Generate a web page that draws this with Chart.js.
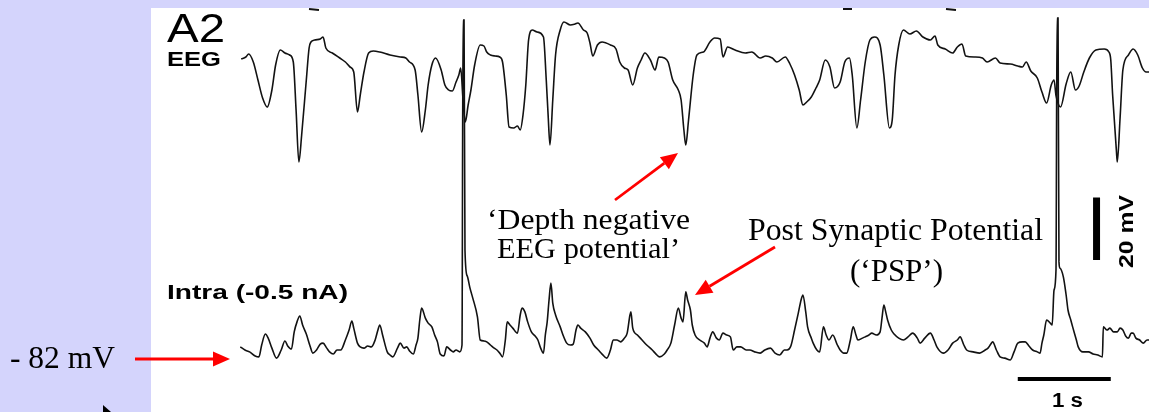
<!DOCTYPE html>
<html>
<head>
<meta charset="utf-8">
<title>A2 - EEG and intracellular trace</title>
<script src="https://cdn.jsdelivr.net/npm/chart.js@4.4.0/dist/chart.umd.min.js"></script>
<style>
  html, body { margin: 0; padding: 0; background: #d4d4fc; overflow: hidden; }
  #wrap { width: 1149px; height: 412px; }
</style>
</head>
<body>
<div id="wrap"><canvas id="trace" width="1149" height="412"></canvas></div>
<script>
// ------- Data (time in s, EEG in uV, intracellular in mV) -------
const eegTime = [
  0.97, 1.02, 1.05, 1.10, 1.15, 1.20, 1.25, 1.30, 1.34, 1.39,
  1.44, 1.49, 1.53, 1.56, 1.59, 1.62, 1.67, 1.70, 1.72, 1.76,
  1.82, 1.85, 1.88, 1.95, 2.03, 2.09, 2.14, 2.18, 2.22, 2.25,
  2.29, 2.34, 2.39, 2.46, 2.57, 2.68, 2.74, 2.78, 2.84, 2.87,
  2.91, 2.95, 2.98, 3.02, 3.06, 3.12, 3.16, 3.20, 3.24, 3.28,
  3.31, 3.33, 3.355, 3.38, 3.41, 3.44, 3.48, 3.54, 3.58, 3.61,
  3.65, 3.70, 3.75, 3.78, 3.82, 3.85, 3.90, 3.94, 3.97, 4.00,
  4.03, 4.06, 4.10, 4.15, 4.22, 4.25, 4.27, 4.29, 4.32, 4.35,
  4.40, 4.44, 4.51, 4.56, 4.59, 4.65, 4.69, 4.72, 4.75, 4.80,
  4.85, 4.94, 5.00, 5.04, 5.09, 5.13, 5.18, 5.23, 5.27, 5.31,
  5.37, 5.42, 5.46, 5.52, 5.56, 5.61, 5.67, 5.70, 5.73, 5.75,
  5.78, 5.83, 5.87, 5.94, 6.01, 6.06, 6.12, 6.15, 6.20, 6.28,
  6.39, 6.46, 6.55, 6.61, 6.68, 6.73, 6.82, 6.87, 6.92, 6.97,
  7.01, 7.05, 7.10, 7.15, 7.19, 7.25, 7.30, 7.35, 7.41, 7.46,
  7.51, 7.54, 7.59, 7.63, 7.68, 7.73, 7.78, 7.84, 7.88, 7.94,
  7.97, 8.00, 8.04, 8.09, 8.16, 8.23, 8.30, 8.38, 8.43, 8.46,
  8.54, 8.62, 8.67, 8.72, 8.76, 8.86, 8.94, 8.99, 9.08, 9.13,
  9.24, 9.32, 9.37, 9.41, 9.46, 9.53, 9.58, 9.63, 9.68, 9.71,
  9.73, 9.76, 9.78, 9.84, 9.89, 9.94, 9.98, 10.03, 10.09, 10.16,
  10.25, 10.30, 10.32, 10.34, 10.38, 10.39, 10.42, 10.45, 10.51, 10.56,
  10.61, 10.66, 10.70, 10.74
];
const eegUV = [
  5, 15, 30, -10, -100, -190, -235, -150, -25, 50,
  35, 25, -10, -250, -510, -375, -100, 60, 90, 100,
  105, 115, 60, 35, 10, -10, -35, -60, -260, -175,
  -60, 35, 45, 40, 25, 15, 10, -10, -50, -175,
  -360, -250, -125, -25, 10, -50, -125, -150, -155, -110,
  -75, -40, -200, -310, -225, -150, -25, 75, 70, 40,
  25, 20, 15, -10, -175, -335, -340, -330, -350, -275,
  -125, 100, 150, 140, 115, -100, -275, -425, -200, 25,
  150, 190, 175, 180, 185, 150, 135, 85, 20, 75,
  90, 75, 55, -10, -40, -50, -125, -40, 0, 35,
  0, -50, 15, 10, -10, -100, -150, -200, -350, -425,
  -300, -75, 25, 40, 90, 110, 105, 15, 65, 50,
  35, 40, 10, 20, 10, -10, 15, -20, -75, -150,
  -225, -210, -185, -140, -100, 0, -35, -140, -110, -10,
  10, -75, -340, -200, -10, 100, 115, 75, -75, -340,
  -300, -75, 75, 150, 130, 145, 115, 100, 120, 75,
  55, 35, 65, 80, 20, 15, 10, -10, 10, -15,
  -20, -30, -35, -10, -55, -90, -160, -215, -125, -100,
  -175, -225, -235, -120, -60, -150, -130, -60, 10, 50,
  55, 40, 0, -175, -450, -510, -290, -50, 25, 55,
  25, -40, -60, -60
];

const intraTime = [
  0.96, 1.01, 1.06, 1.12, 1.16, 1.19, 1.23, 1.26, 1.30, 1.35,
  1.40, 1.44, 1.47, 1.51, 1.54, 1.57, 1.60, 1.63, 1.67, 1.71,
  1.74, 1.78, 1.82, 1.85, 1.89, 1.92, 1.96, 2.00, 2.04, 2.09,
  2.13, 2.16, 2.18, 2.22, 2.25, 2.29, 2.33, 2.37, 2.41, 2.44,
  2.46, 2.49, 2.54, 2.57, 2.60, 2.65, 2.68, 2.72, 2.75, 2.78,
  2.82, 2.85, 2.87, 2.89, 2.91, 2.95, 2.98, 3.02, 3.05, 3.08,
  3.11, 3.15, 3.18, 3.22, 3.25, 3.28, 3.32, 3.344, 3.355, 3.366,
  3.376, 3.40, 3.43, 3.46, 3.51, 3.54, 3.58, 3.61, 3.65, 3.69,
  3.72, 3.75, 3.78, 3.81, 3.83, 3.86, 3.89, 3.94, 3.97, 3.99,
  4.02, 4.05, 4.09, 4.13, 4.16, 4.19, 4.22, 4.24, 4.26, 4.28,
  4.30, 4.32, 4.35, 4.40, 4.43, 4.47, 4.51, 4.54, 4.57, 4.59,
  4.62, 4.67, 4.72, 4.76, 4.81, 4.85, 4.90, 4.94, 4.97, 5.01,
  5.05, 5.09, 5.12, 5.15, 5.16, 5.18, 5.23, 5.28, 5.33, 5.39,
  5.43, 5.47, 5.52, 5.55, 5.59, 5.63, 5.67, 5.70, 5.72, 5.75,
  5.77, 5.80, 5.82, 5.85, 5.90, 5.95, 5.98, 6.01, 6.04, 6.08,
  6.11, 6.15, 6.19, 6.23, 6.26, 6.30, 6.34, 6.40, 6.44, 6.49,
  6.55, 6.60, 6.66, 6.71, 6.76, 6.81, 6.84, 6.88, 6.92, 6.96,
  6.99, 7.01, 7.04, 7.06, 7.10, 7.12, 7.16, 7.19, 7.23, 7.26,
  7.29, 7.33, 7.38, 7.41, 7.45, 7.48, 7.52, 7.55, 7.58, 7.60,
  7.65, 7.68, 7.72, 7.75, 7.80, 7.84, 7.86, 7.88, 7.90, 7.92,
  7.96, 7.99, 8.04, 8.09, 8.14, 8.19, 8.24, 8.27, 8.32, 8.38,
  8.42, 8.45, 8.52, 8.57, 8.62, 8.67, 8.70, 8.74, 8.77, 8.84,
  8.91, 8.97, 9.00, 9.03, 9.05, 9.09, 9.13, 9.18, 9.24, 9.28,
  9.32, 9.37, 9.40, 9.44, 9.48, 9.53, 9.56, 9.58, 9.60, 9.63,
  9.67, 9.69, 9.71, 9.731, 9.742, 9.753, 9.763, 9.774, 9.81, 9.84,
  9.86, 9.89, 9.91, 9.95, 9.97, 10.02, 10.08, 10.13, 10.18, 10.23,
  10.24, 10.28, 10.31, 10.35, 10.39, 10.42, 10.45, 10.48, 10.51, 10.54,
  10.56, 10.59, 10.63, 10.67, 10.71, 10.74
];
const intraMV = [
  -79.4, -80.4, -81.0, -82.3, -82.6, -78.8, -75.3, -76.6, -79.8, -83.0,
  -80.4, -77.5, -79.1, -80.1, -74.6, -71.4, -69.5, -72.4, -75.3, -79.1,
  -81.4, -80.4, -78.5, -78.2, -79.8, -81.0, -81.7, -80.4, -80.4, -77.2,
  -74.0, -71.1, -73.4, -78.2, -79.4, -79.8, -79.1, -79.4, -77.2, -74.0,
  -72.4, -75.6, -81.0, -82.0, -82.6, -79.8, -78.2, -79.8, -79.4, -80.7,
  -81.7, -78.8, -76.6, -70.8, -67.0, -70.2, -71.8, -73.0, -75.6, -77.8,
  -81.7, -82.3, -79.4, -80.4, -81.0, -80.4, -81.0, -78.8, 25.2, 25.2,
  -48.4, -56.7, -60.6, -63.8, -69.8, -77.2, -77.5, -77.8, -78.8, -79.8,
  -80.4, -81.4, -82.6, -77.2, -71.4, -72.4, -73.4, -75.0, -69.2, -67.0,
  -68.2, -71.4, -74.6, -75.9, -77.2, -79.8, -81.4, -75.6, -71.4, -64.4,
  -59.0, -65.4, -69.2, -73.0, -75.6, -78.2, -78.8, -78.5, -74.0, -72.4,
  -73.4, -74.6, -76.6, -78.8, -80.4, -81.7, -83.0, -80.4, -77.2, -77.2,
  -77.8, -76.6, -75.0, -69.2, -68.2, -73.4, -75.6, -77.2, -78.8, -80.4,
  -81.7, -82.6, -81.7, -80.4, -78.2, -72.4, -67.0, -70.2, -71.4, -61.8,
  -64.4, -67.6, -72.4, -75.6, -77.2, -78.2, -79.4, -76.6, -74.6, -76.6,
  -77.2, -75.0, -75.6, -76.2, -80.4, -79.4, -79.4, -80.4, -80.4, -81.0,
  -81.4, -80.4, -79.8, -81.4, -82.0, -80.4, -80.4, -79.1, -74.0, -68.6,
  -64.4, -62.8, -68.2, -73.0, -76.6, -78.2, -80.4, -81.0, -73.0, -75.6,
  -77.2, -75.6, -78.8, -80.4, -81.4, -81.4, -77.2, -73.0, -75.6, -77.2,
  -76.6, -76.2, -75.6, -75.0, -75.6, -74.6, -70.2, -66.0, -68.2, -70.8,
  -74.0, -75.3, -76.6, -77.2, -76.2, -75.0, -76.6, -78.2, -76.6, -75.0,
  -77.2, -79.4, -81.4, -80.4, -78.2, -77.2, -76.2, -78.8, -80.4, -81.0,
  -81.4, -80.4, -79.8, -78.5, -77.8, -80.4, -82.6, -83.0, -83.6, -81.0,
  -78.2, -77.8, -77.8, -79.1, -80.4, -81.0, -81.4, -78.2, -75.6, -70.8,
  -71.8, -72.4, -61.2, -54.8, 25.8, 25.8, -52.2, -54.2, -57.0, -62.8,
  -67.6, -70.8, -73.0, -77.2, -79.4, -81.0, -81.0, -81.7, -82.0, -82.6,
  -73.0, -74.0, -73.4, -74.6, -74.6, -73.4, -74.0, -75.9, -76.6, -75.0,
  -75.0, -76.6, -77.2, -78.2, -77.2, -77.2
];

// calibration bars: 20 mV (vertical) and 1 s (horizontal)
const barMvTime = 10.167;
const barMv = [-51.6, -31.6];
const barSecTime = [9.32, 10.32];
const barSecMv = -89.7;

// view window
const timeRange = [0, 10.731];
const intraRange = [-100.24, 29.04];
const eegRange = [-1760, 260];

function pairs(xs, ys) {
  return xs.map((x, i) => ({ x: x, y: ys[i] }));
}

// ------- helpers for the annotations -------
function wideText(ctx, text, left, baseline, font, width) {
  ctx.font = font;
  let w = ctx.measureText(text).width;
  ctx.save();
  ctx.translate(left, baseline);
  ctx.scale(width / w, 1);
  ctx.textAlign = "left";
  ctx.textBaseline = "alphabetic";
  ctx.fillText(text, 0, 0);
  ctx.restore();
}

function redArrow(ctx, x1, y1, x2, y2) {
  let ang = Math.atan2(y2 - y1, x2 - x1),
    len = 17,
    half = 7.5;
  let bx = x2 - len * Math.cos(ang),
    by = y2 - len * Math.sin(ang);
  ctx.save();
  ctx.strokeStyle = "#ff0000";
  ctx.fillStyle = "#ff0000";
  ctx.lineWidth = 2.8;
  ctx.beginPath();
  ctx.moveTo(x1, y1);
  ctx.lineTo(bx, by);
  ctx.stroke();
  ctx.beginPath();
  ctx.moveTo(x2, y2);
  ctx.lineTo(bx + half * Math.sin(ang), by - half * Math.cos(ang));
  ctx.lineTo(bx - half * Math.sin(ang), by + half * Math.cos(ang));
  ctx.closePath();
  ctx.fill();
  ctx.restore();
}

// lavender slide + white figure panel
const panel = {
  id: "panel",
  beforeDraw(chart) {
    let ctx = chart.ctx,
      a = chart.chartArea;
    ctx.save();
    ctx.fillStyle = "#d4d4fc";
    ctx.fillRect(0, 0, chart.width, chart.height);
    ctx.fillStyle = "#ffffff";
    ctx.fillRect(a.left, a.top, a.right - a.left, a.bottom - a.top);
    ctx.restore();
  },
};

// labels, scale-bar text and red arrows
const notes = {
  id: "notes",
  afterDraw(chart) {
    let ctx = chart.ctx;
    let sans = '"Liberation Sans", Arial, sans-serif',
      serif = '"Liberation Serif", "Times New Roman", serif';
    ctx.save();
    ctx.fillStyle = "#000";

    // bits of the cropped line above the figure
    ctx.strokeStyle = "#111";
    ctx.lineWidth = 2;
    ctx.beginPath();
    ctx.moveTo(309, 9); ctx.lineTo(319, 10);
    ctx.moveTo(843, 9); ctx.lineTo(852, 9);
    ctx.moveTo(946, 9); ctx.lineTo(956, 10);
    ctx.stroke();

    wideText(ctx, "A2", 167, 42, "40px " + sans, 58);
    wideText(ctx, "EEG", 167, 66, "bold 20px " + sans, 54);
    wideText(ctx, "Intra (-0.5 nA)", 167, 299, "bold 20px " + sans, 181);
    wideText(ctx, "1 s", 1052, 407, "bold 20px " + sans, 31);

    ctx.save();
    ctx.translate(1133, 268);
    ctx.rotate(-Math.PI / 2);
    wideText(ctx, "20 mV", 0, 0, "bold 20px " + sans, 73);
    ctx.restore();

    wideText(ctx, "\u2018Depth negative", 487, 229, "30px " + serif, 203);
    wideText(ctx, "EEG potential\u2019", 497, 258, "30px " + serif, 183);
    wideText(ctx, "Post Synaptic Potential", 748, 240, "31px " + serif, 295);
    wideText(ctx, "(\u2018PSP\u2019)", 850, 281, "31px " + serif, 93);
    wideText(ctx, "- 82 mV", 10, 368, "31px " + serif, 105);

    redArrow(ctx, 135, 359, 230, 359);
    redArrow(ctx, 615, 200, 678, 153);
    redArrow(ctx, 775, 247, 695, 295);

    // clipped black arrow head bottom left
    ctx.beginPath();
    ctx.moveTo(103, 405);
    ctx.lineTo(111, 412);
    ctx.lineTo(103, 412);
    ctx.closePath();
    ctx.fill();
    ctx.restore();
  },
};

// ------- Chart -------
const traceStyle = {
  showLine: true,
  borderColor: "#121212",
  borderWidth: 1.6,
  pointRadius: 0,
  cubicInterpolationMode: "monotone",
};

new Chart("trace", {
  type: "scatter",
  data: {
    datasets: [
      Object.assign({ label: "EEG", data: pairs(eegTime, eegUV), yAxisID: "yE" }, traceStyle),
      Object.assign({ label: "Intra (-0.5 nA)", data: pairs(intraTime, intraMV), yAxisID: "y" }, traceStyle),
      {
        label: "20 mV",
        data: barMv.map((v) => ({ x: barMvTime, y: v })),
        yAxisID: "y",
        showLine: true,
        borderColor: "#000",
        borderWidth: 7,
        pointRadius: 0,
      },
      {
        label: "1 s",
        data: barSecTime.map((t) => ({ x: t, y: barSecMv })),
        yAxisID: "y",
        showLine: true,
        borderColor: "#000",
        borderWidth: 4,
        pointRadius: 0,
      },
    ],
  },
  options: {
    responsive: false,
    animation: false,
    layout: { padding: { left: 151, top: 8, right: 0, bottom: 0 } },
    plugins: { legend: { display: false }, tooltip: { enabled: false } },
    scales: {
      x: { type: "linear", min: timeRange[0], max: timeRange[1], display: false },
      y: { min: intraRange[0], max: intraRange[1], display: false },
      yE: { min: eegRange[0], max: eegRange[1], display: false },
    },
  },
  plugins: [panel, notes],
});
</script>
</body>
</html>
